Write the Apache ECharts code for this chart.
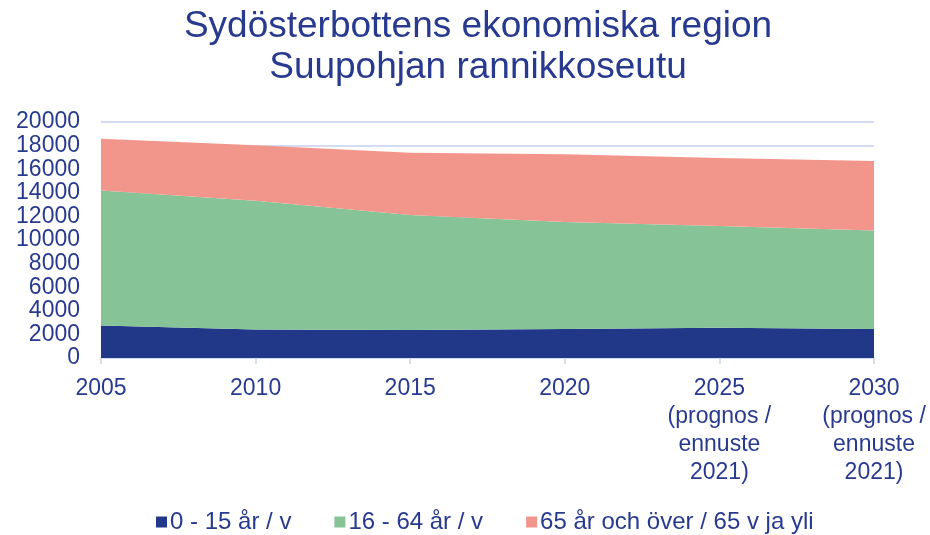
<!DOCTYPE html>
<html>
<head>
<meta charset="utf-8">
<script src="https://cdn.jsdelivr.net/npm/echarts@6/dist/echarts.min.js"></script>
<style>
  html, body { margin: 0; padding: 0; background: #fff; }
  #main { width: 930px; height: 535px; }
</style>
</head>
<body>
<div id="main"></div>
<script>
var categories = ['2005', '2010', '2015', '2020', '2025\n(prognos /\nennuste\n2021)', '2030\n(prognos /\nennuste\n2021)'];
var seriesNames = ['0 - 15 år / v', '16 - 64 år / v', '65 år och över / 65 v ja yli'];
var age0to15 = [2760, 2420, 2370, 2460, 2570, 2460];
var age16to64 = [11440, 10910, 9750, 9070, 8620, 8350];
var age65plus = [4385, 4690, 5280, 5730, 5760, 5880];
var yTicks = { min: 0, max: 20000, interval: 2000 };

var textColor = '#283a8f';
var font = '"Liberation Sans", Arial, sans-serif';
var colors = ['#213889', '#86c497', '#f2968c'];

var myChart = echarts.init(document.getElementById('main'));

function areaSeries(name, data, color) {
	return {
		name: name,
		type: 'line',
		stack: 'total',
		data: data,
		showSymbol: false,
		symbol: 'none',
		lineStyle: { width: 0 },
		areaStyle: { color: color, opacity: 1 },
		itemStyle: { color: color }
	};
}

var option = {
	animation: false,
	textStyle: { fontFamily: font },
	title: {
		text: 'Sydösterbottens ekonomiska region\nSuupohjan rannikkoseutu',
		left: 473,
		top: 1,
		textAlign: 'center',
		textStyle: {
			color: textColor,
			fontSize: 37,
			fontWeight: 'normal',
			lineHeight: 41,
			fontFamily: font
		}
	},
	legend: {
		left: 151,
		top: 505,
		itemWidth: 11,
		itemHeight: 11,
		itemGap: 43,
		icon: 'rect',
		textStyle: { color: textColor, fontSize: 24, fontFamily: font, padding: [0, 0, 0, -2] },
		data: seriesNames
	},
	grid: {
		left: 101,
		right: 56,
		top: 122,
		bottom: 177,
		containLabel: false
	},
	xAxis: {
		type: 'category',
		boundaryGap: false,
		data: categories,
		axisLine: { lineStyle: { color: '#d3dcf3', width: 2 } },
		axisTick: { show: true, length: 6, lineStyle: { color: '#d3dcf3', width: 2 } },
		axisLabel: {
			color: textColor,
			fontSize: 23,
			lineHeight: 28,
			margin: 17,
			interval: 0,
			fontFamily: font
		}
	},
	yAxis: {
		type: 'value',
		min: yTicks.min,
		max: yTicks.max,
		interval: yTicks.interval,
		axisLine: { show: false },
		axisTick: { show: false },
		splitLine: { lineStyle: { color: '#d3dcf3', width: 2 } },
		axisLabel: {
			color: textColor,
			fontSize: 23,
			margin: 21,
			padding: [6, 0, 0, 0],
			fontFamily: font,
			formatter: function (v) { return String(v); }
		}
	},
	series: [
		areaSeries(seriesNames[0], age0to15, colors[0]),
		areaSeries(seriesNames[1], age16to64, colors[1]),
		areaSeries(seriesNames[2], age65plus, colors[2])
	]
};
myChart.setOption(option);
</script>
</body>
</html>
